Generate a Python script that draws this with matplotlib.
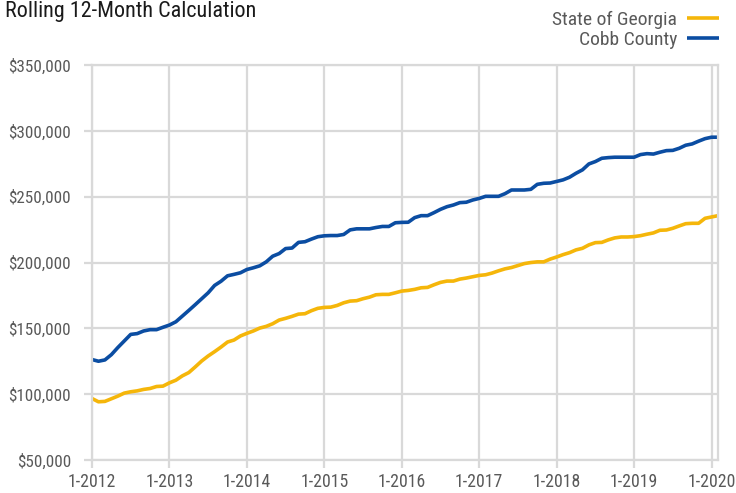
import matplotlib
matplotlib.use("Agg")
from matplotlib import pyplot as plt
from matplotlib.ticker import FuncFormatter
import numpy as np

# rolling 12-month values, in $ thousands, monthly from 1-2012 to 2-2020
georgia = [96.7, 94.2, 94.5, 96.5, 98.5, 100.8, 101.8, 102.5, 103.6, 104.3, 105.8, 106.1,
           108.6, 110.6, 113.9, 116.4, 120.7, 125.2, 129.0, 132.3, 135.8, 139.6, 141.1, 144.2,
           146.2, 148.0, 150.2, 151.5, 153.5, 156.3, 157.6, 159.1, 160.8, 161.1, 163.4, 165.2,
           165.9, 166.1, 167.4, 169.4, 170.7, 171.0, 172.5, 173.7, 175.5, 175.8, 175.8, 177.0,
           178.3, 178.8, 179.6, 180.8, 181.1, 183.1, 184.9, 185.9, 185.9, 187.4, 188.2, 189.2,
           190.2, 190.7, 192.0, 193.7, 195.2, 196.2, 197.7, 199.2, 200.0, 200.5, 200.5, 202.6,
           204.2, 206.0, 207.5, 209.6, 210.8, 213.4, 215.1, 215.3, 217.2, 218.7, 219.4, 219.4,
           219.7, 220.4, 221.5, 222.5, 224.5, 224.7, 226.0, 227.8, 229.5, 229.8, 229.8, 233.6,
           234.6, 235.6]

cobb = [126.3, 125.0, 126.0, 130.0, 135.4, 140.4, 145.4, 146.0, 148.0, 149.0, 149.0, 150.8,
        152.5, 155.0, 159.3, 163.6, 168.0, 172.5, 177.0, 182.6, 185.8, 189.9, 191.0, 192.2,
        194.7, 196.0, 197.5, 200.5, 204.8, 206.8, 210.6, 211.0, 215.3, 215.8, 217.8, 219.6,
        220.3, 220.5, 220.5, 221.3, 224.8, 225.6, 225.6, 225.6, 226.6, 227.4, 227.4, 230.2,
        230.5, 230.6, 234.1, 235.6, 235.6, 237.9, 240.4, 242.4, 243.7, 245.5, 245.8, 247.5,
        248.7, 250.3, 250.3, 250.3, 252.3, 255.1, 255.1, 255.1, 255.6, 259.4, 260.2, 260.4,
        261.6, 262.8, 264.8, 267.8, 270.4, 274.9, 276.7, 279.2, 279.7, 280.0, 280.0, 280.0,
        280.0, 282.0, 282.7, 282.4, 283.8, 285.0, 285.2, 286.8, 289.1, 290.1, 292.2, 294.1,
        295.2, 295.2]

years = list(range(2012, 2021))
year_labels = ["1-%d" % y for y in years]

plt.rcParams['font.family'] = ['Roboto Condensed', 'Roboto', 'DejaVu Sans']

grid_col = '#d9d9d9'
text_col = '#595959'

months = np.arange(len(georgia))
ga = np.array(georgia) * 1000
cc = np.array(cobb) * 1000

fig = plt.figure(figsize=(7.36, 4.93), dpi=100)
ax = fig.add_axes([0.125, 0.067, 0.8505, 0.801])

ax.plot(months, ga, color='#f5b60a', linewidth=2.6, label='State of Georgia',
        solid_capstyle='butt')
ax.plot(months, cc, color='#0b4da2', linewidth=2.6, label='Cobb County',
        solid_capstyle='butt')

ax.set_xlim(0, len(georgia) - 1)
ax.set_ylim(50000, 350000)
ax.set_xticks([12 * i for i in range(len(years))])
ax.set_xticklabels(year_labels)
ax.set_yticks(np.arange(50000, 350001, 50000))
ax.yaxis.set_major_formatter(FuncFormatter(lambda v, p: "${:,.0f}".format(v)))

ax.grid(True, color=grid_col, linewidth=1.6)
ax.set_axisbelow(True)
for s in ax.spines.values():
    s.set_color(grid_col)
    s.set_linewidth(1.6)

ax.tick_params(axis='both', colors=grid_col, length=6, width=1.6,
               labelcolor=text_col)
ax.tick_params(axis='y', pad=9, labelsize=12.3)
ax.tick_params(axis='x', pad=3.5, labelsize=12.8)

fig.text(0.007, 0.997, "Rolling 12-Month Calculation", fontsize=15.9,
         color='#1a1a1a', ha='left', va='top')

leg = ax.legend(loc='upper right', bbox_to_anchor=(0.977, 0.978),
                bbox_transform=fig.transFigure, frameon=False, markerfirst=False,
                fontsize=14, handlelength=1.65, handletextpad=0.5,
                labelspacing=0.12, borderpad=0, borderaxespad=0)
for t in leg.get_texts():
    t.set_color(text_col)

fig.savefig("out.png", dpi=100)
